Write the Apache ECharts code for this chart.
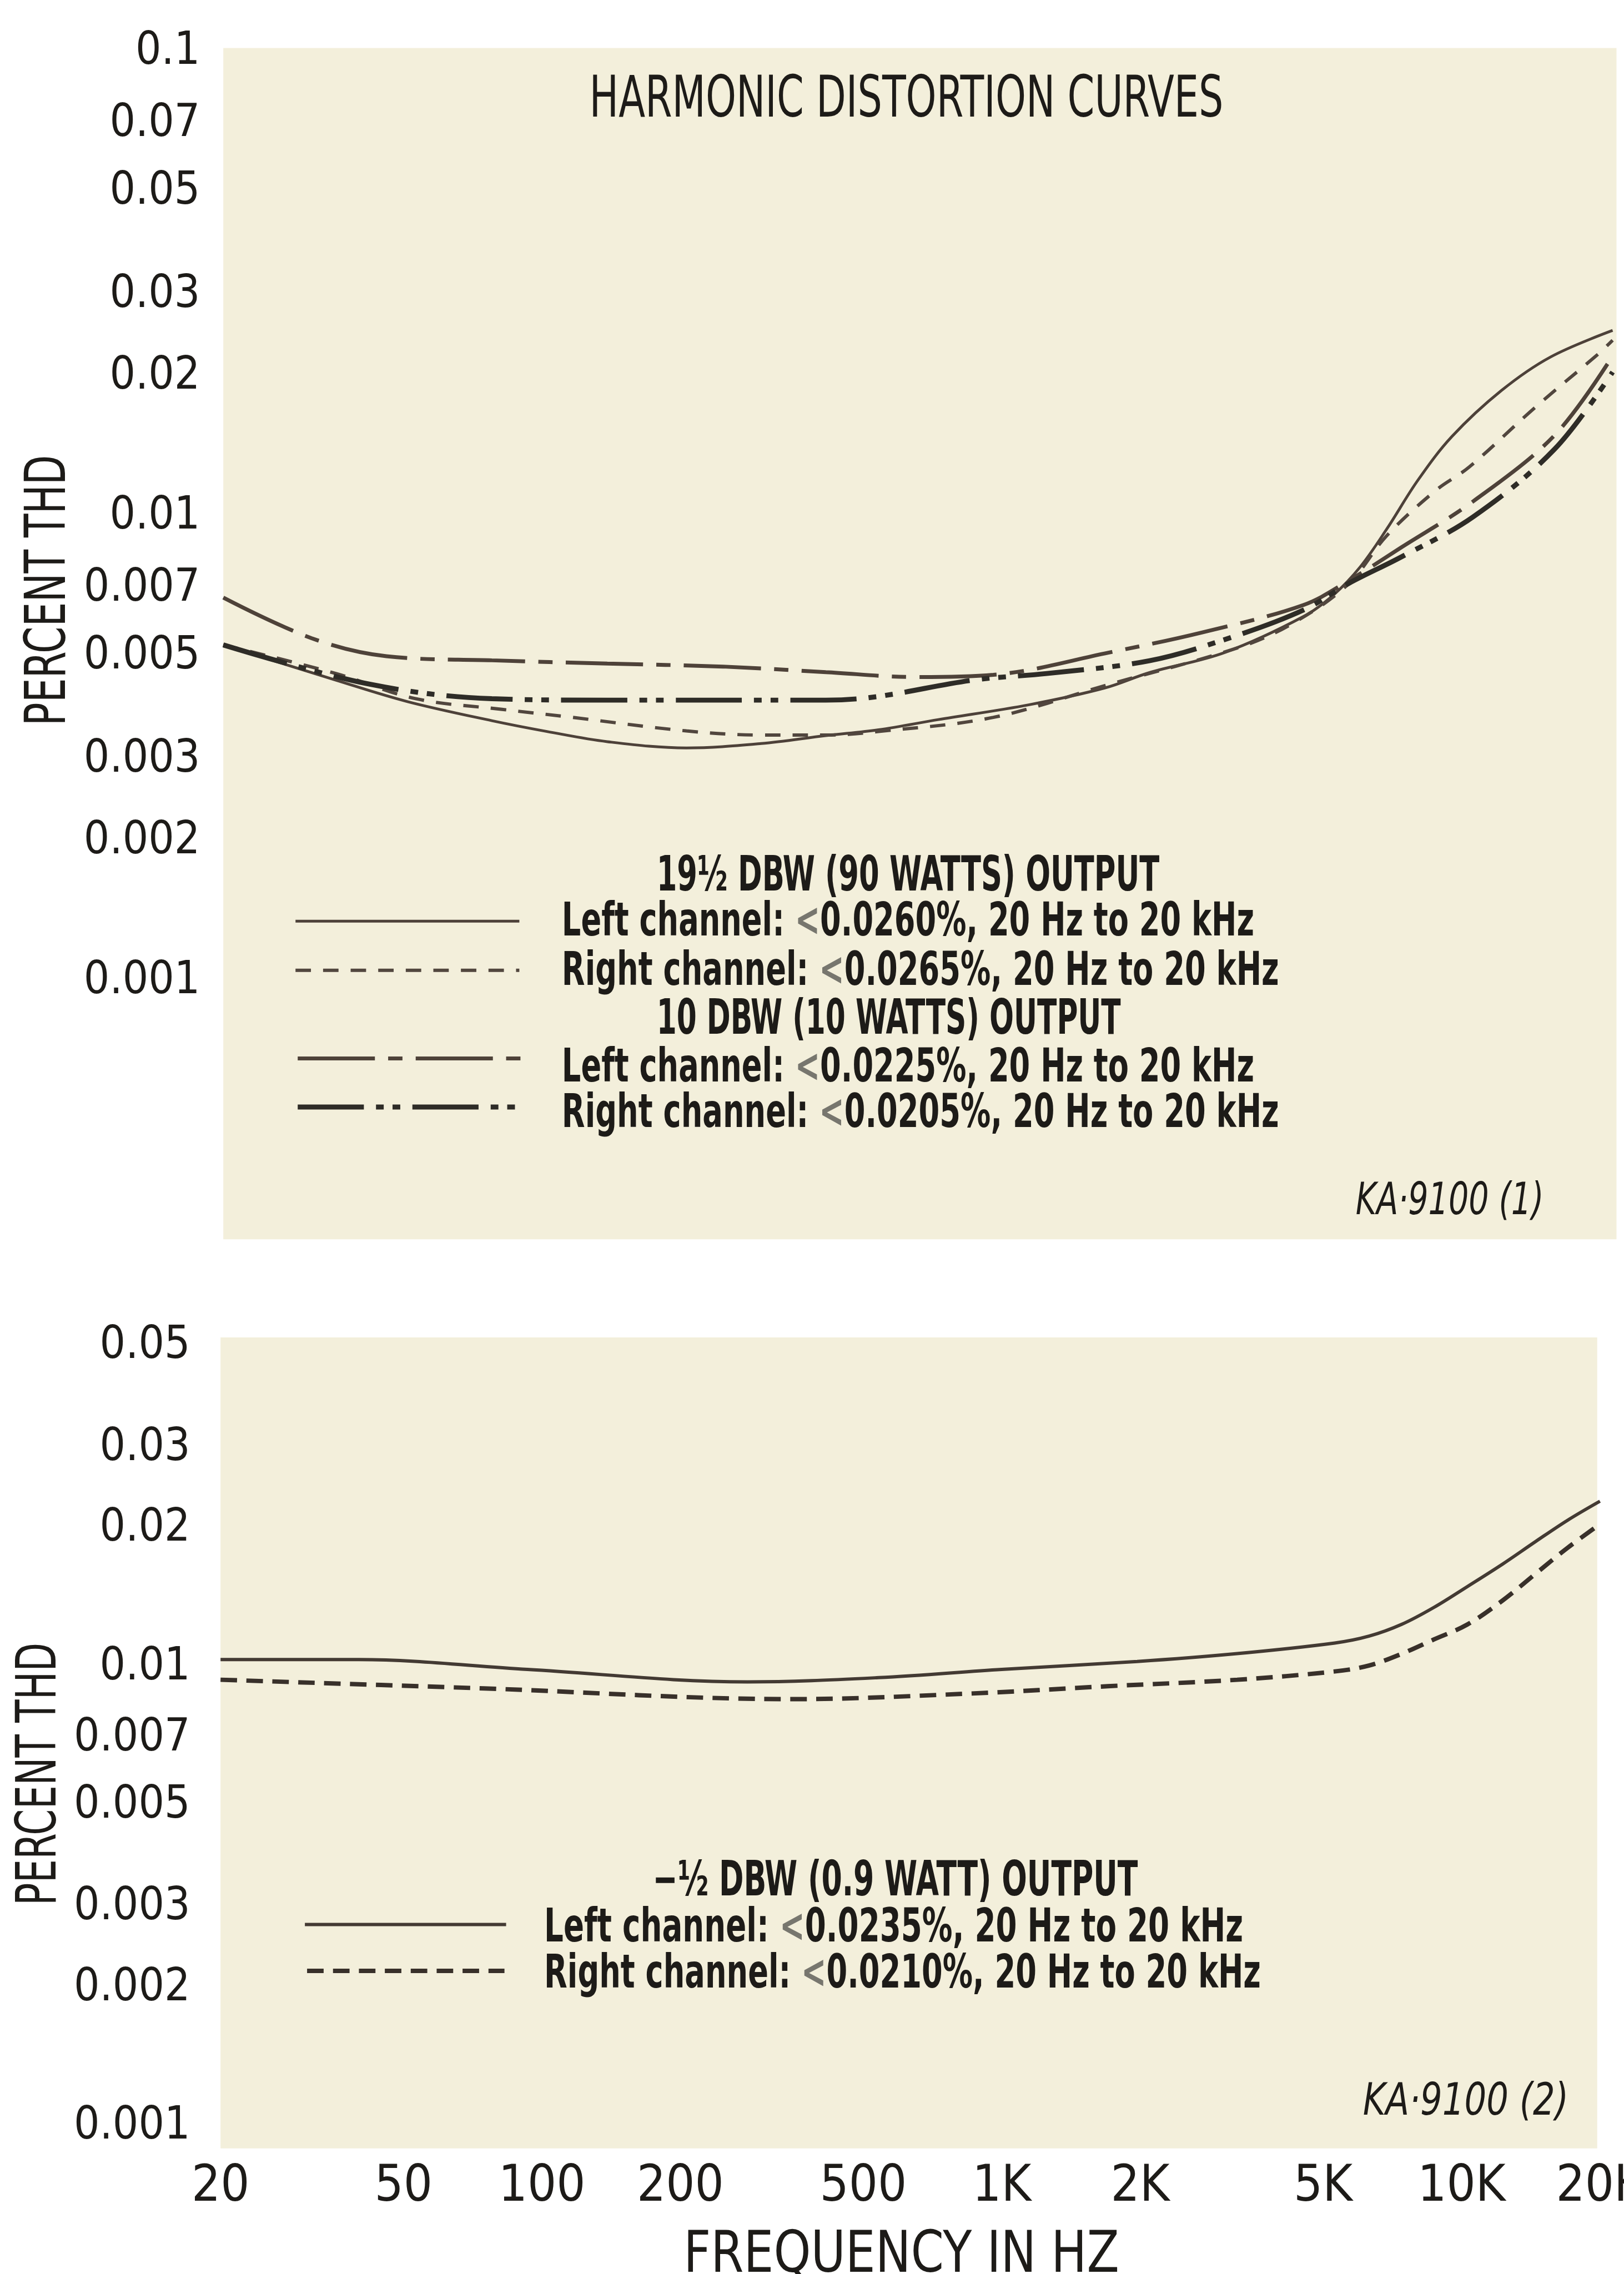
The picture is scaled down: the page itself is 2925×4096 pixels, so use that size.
<!DOCTYPE html>
<html><head><meta charset="utf-8">
<script src="https://cdn.jsdelivr.net/npm/echarts@6/dist/echarts.min.js"></script>
<style>html,body{margin:0;padding:0;background:#fff;}#c{width:2925px;height:4096px;}</style>
</head><body><div id="c"></div>
<script>
// ---------------- data ----------------
const xTicks = [20, 50, 100, 200, 500, 1000, 2000, 5000, 10000, 20000];
const xTickLabels = ['20', '50', '100', '200', '500', '1K', '2K', '5K', '10K', '20K'];
const yTicksTop = [0.1, 0.07, 0.05, 0.03, 0.02, 0.01, 0.007, 0.005, 0.003, 0.002, 0.001];
const yTicksBottom = [0.05, 0.03, 0.02, 0.01, 0.007, 0.005, 0.003, 0.002, 0.001];

// 19½ DBW (90 W) output
const top19Left = [[20,0.0053],[35,0.00445],[50,0.0040],[76,0.00364],[100,0.00345],[135,0.00328],[200,0.00318],[290,0.00325],[400,0.00338],[520,0.00348],[700,0.00366],[1100,0.00394],[1600,0.00428],[2000,0.00462],[2900,0.0051],[4300,0.0061],[5000,0.0068],[5700,0.0078],[6500,0.0094],[7600,0.0120],[9000,0.0149],[11500,0.0187],[14700,0.0221],[20000,0.0252]];
const top19Right = [[20,0.0053],[35,0.0046],[52,0.00406],[80,0.00385],[111,0.00371],[200,0.00346],[290,0.00339],[400,0.00339],[520,0.00345],[920,0.0037],[1600,0.00433],[3200,0.00528],[4200,0.0060],[5400,0.0072],[6500,0.0091],[8300,0.0114],[9800,0.0128],[13600,0.0172],[18600,0.0224],[20000,0.0240]];
// 10 DBW (10 W) output
const top10Left = [[20,0.0067],[31,0.00548],[45,0.00501],[76,0.00491],[135,0.00483],[240,0.00476],[400,0.00463],[625,0.00452],[920,0.00457],[1630,0.0051],[2600,0.00564],[4300,0.00646],[5400,0.0073],[7000,0.0086],[10000,0.0108],[15000,0.0150],[20000,0.0222]];
const top10Right = [[20,0.0053],[41,0.00437],[76,0.00406],[135,0.00403],[400,0.00403],[515,0.0041],[830,0.00445],[1200,0.0046],[2000,0.0049],[3000,0.0055],[4300,0.0063],[5400,0.0072],[7000,0.0082],[10000,0.0100],[15000,0.0140],[20000,0.0205]];
// -1/2 DBW (0.9 W) output
const botLeft = [[20,0.0104],[40,0.0104],[93,0.0099],[280,0.0093],[540,0.0095],[1000,0.0099],[1970,0.0103],[3200,0.0107],[5300,0.0113],[6300,0.0117],[7400,0.0124],[8700,0.0135],[10300,0.0150],[12300,0.0168],[14500,0.0188],[17000,0.0209],[20000,0.0230]];
const botRight = [[20,0.0094],[75,0.0090],[350,0.00853],[850,0.00877],[1700,0.0091],[3250,0.0094],[5300,0.0098],[6300,0.0101],[7400,0.0107],[8700,0.0115],[10300,0.0124],[12300,0.0140],[14500,0.0160],[17000,0.0182],[20000,0.0205]];

// ---------------- style / layout ----------------
const S = 0.993;
const FONT = "'Liberation Sans Narrow','DejaVu Sans Condensed','Roboto Condensed','Liberation Sans',sans-serif";
const INK = '#1d1b18';
const PAPER = '#f3efdb';
const C_SOLID = '#4d4139', C_DASH = '#51463e', C_10L = '#4e4239', C_10R = '#2e2c27';
const C_BSOLID = '#433a33', C_BDASH = '#38302a';
const D_19R = [28, 22], D_10L = [140, 24, 26, 24], D_10R = [120, 22, 14, 16, 14, 22], D_BR = [30, 17];
const TY = 10; // vertical text offset

const mctx = document.createElement('canvas').getContext('2d');
function fit(text, size, targetW, weight, fstyle) {
  mctx.font = (fstyle || 'normal') + ' ' + (weight || 'normal') + ' ' + size + 'px ' + FONT;
  const w = mctx.measureText(text).width;
  return w > 0 ? targetW / w : 1;
}
function txt(text, x, y, size, targetW, o) {
  o = o || {};
  const k = targetW ? fit(text, size, targetW, o.weight, o.fstyle) : 1;
  const st = { text: text, fontSize: size * S, fontFamily: FONT, fontWeight: o.weight || 'normal',
    fontStyle: o.fstyle || 'normal', fill: o.color || INK, align: o.align || 'left', verticalAlign: 'middle' };
  if (o.grayLt && text.indexOf('<') >= 0) {
    st.text = text.replace('<', '{g|<}');
    st.rich = { g: { fill: '#77766e', fontSize: size * S, fontFamily: FONT, fontWeight: o.weight || 'normal' } };
  }
  return { type: 'text', x: x * S, y: (y + (o.rot ? 0 : TY)) * S, scaleX: k, rotation: o.rot || 0, z: 10, silent: true, style: st };
}
function sample(x1, x2, y, color, w, dash) {
  return { type: 'line', z: 10, silent: true,
    shape: { x1: x1 * S, y1: y * S, x2: x2 * S, y2: y * S },
    style: { stroke: color, lineWidth: w * S, lineDash: dash ? dash.map(d => d * S) : null } };
}
function lbl(ticks, labels) {
  return function (v) {
    for (let i = 0; i < ticks.length; i++) {
      if (Math.abs(Math.log10(ticks[i]) - v) < 1e-6) return labels ? labels[i] : String(ticks[i]);
    }
    return '';
  };
}
const hidden = { axisLine: { show: false }, axisTick: { show: false }, splitLine: { show: false } };
const B = 'bold';
const LG = { weight: 'bold', grayLt: true };

const graphics = [
  { type: 'rect', z: -5, silent: true, shape: { x: 405 * S, y: 87 * S, width: 2527 * S, height: 2161 * S }, style: { fill: PAPER } },
  { type: 'rect', z: -5, silent: true, shape: { x: 400 * S, y: 2426 * S, width: 2497 * S, height: 1471 * S }, style: { fill: PAPER } },
  txt('HARMONIC DISTORTION CURVES', 1069, 174, 104, 1150),
  txt('PERCENT THD', 91, 1071, 102, 491, { rot: Math.PI / 2, align: 'center' }),
  txt('PERCENT THD', 75, 3218, 100, 477, { rot: Math.PI / 2, align: 'center' }),
  txt('19½ DBW (90 WATTS) OUTPUT', 1191, 1582, 88, 912, { weight: B }),
  txt('Left channel: <0.0260%, 20 Hz to 20 kHz', 1019, 1665, 84, 1256, LG),
  txt('Right channel: <0.0265%, 20 Hz to 20 kHz', 1019, 1755, 84, 1301, LG),
  txt('10 DBW (10 WATTS) OUTPUT', 1191, 1842, 88, 842, { weight: B }),
  txt('Left channel: <0.0225%, 20 Hz to 20 kHz', 1019, 1930, 84, 1256, LG),
  txt('Right channel: <0.0205%, 20 Hz to 20 kHz', 1019, 2012, 84, 1301, LG),
  txt('KA·9100 (1)', 2459, 2172, 80, 341, { fstyle: 'italic' }),
  txt('−½ DBW (0.9 WATT) OUTPUT', 1184, 3405, 88, 880, { weight: B }),
  txt('Left channel: <0.0235%, 20 Hz to 20 kHz', 987, 3490, 84, 1268, LG),
  txt('Right channel: <0.0210%, 20 Hz to 20 kHz', 987, 3573, 84, 1300, LG),
  txt('KA·9100 (2)', 2472, 3805, 80, 373, { fstyle: 'italic' }),
  txt('FREQUENCY IN HZ', 1635, 4084, 104, 790, { align: 'center' }),
  sample(536, 942, 1671, C_SOLID, 5),
  sample(536, 942, 1760, C_DASH, 6, D_19R),
  sample(540, 948, 1920, C_10L, 7, D_10L),
  sample(540, 948, 2008, C_10R, 9, D_10R),
  sample(553, 918, 3491, C_BSOLID, 6),
  sample(557, 915, 3575, C_BDASH, 8, D_BR)
];

function line(data, xi, yi, color, w, dash) {
  return { type: 'line', xAxisIndex: xi, yAxisIndex: yi, data: data, symbol: 'none', showSymbol: false,
    smooth: 0.35, silent: true, lineStyle: { color: color, width: w * S, type: dash ? dash.map(d => d * S) : 'solid' } };
}

const labelFont = { fontFamily: FONT, color: INK };
const option = {
  animation: false,
  backgroundColor: '#ffffff',
  grid: [
    { left: 405 * S, top: 95 * S, width: 2520 * S, height: 1685 * S, containLabel: false, outerBoundsMode: 'none' },
    { left: 400 * S, top: 2442 * S, width: 2502 * S, height: 1416 * S, containLabel: false, outerBoundsMode: 'none' }
  ],
  xAxis: [
    { type: 'log', gridIndex: 0, min: 20, max: 20000, show: false, position: 'bottom' },
    { type: 'log', gridIndex: 1, min: 20, max: 20000, show: false, position: 'bottom' },
    Object.assign({ type: 'value', gridIndex: 1, position: 'bottom', min: Math.log10(20), max: Math.log10(20000),
      axisLabel: Object.assign({ customValues: xTicks.map(v => Math.log10(v)), formatter: lbl(xTicks, xTickLabels),
        fontSize: 92 * S, margin: 64 * S }, labelFont) }, hidden)
  ],
  yAxis: [
    { type: 'log', gridIndex: 0, min: 0.001, max: 0.1, show: false, position: 'left' },
    Object.assign({ type: 'value', gridIndex: 0, position: 'left', min: -3, max: -1,
      axisLabel: Object.assign({ customValues: yTicksTop.map(v => Math.log10(v)), formatter: lbl(yTicksTop),
        fontSize: 82 * S, margin: 42 * S }, labelFont) }, hidden),
    { type: 'log', gridIndex: 1, min: 0.001, max: 0.05, show: false, position: 'left' },
    Object.assign({ type: 'value', gridIndex: 1, position: 'left', min: -3, max: Math.log10(0.05),
      axisLabel: Object.assign({ customValues: yTicksBottom.map(v => Math.log10(v)), formatter: lbl(yTicksBottom),
        fontSize: 82 * S, margin: 55 * S }, labelFont) }, hidden)
  ],
  graphic: { elements: graphics },
  series: [
    line(top19Left, 0, 0, C_SOLID, 5),
    line(top19Right, 0, 0, C_DASH, 6, D_19R),
    line(top10Left, 0, 0, C_10L, 7, D_10L),
    line(top10Right, 0, 0, C_10R, 9, D_10R),
    line(botLeft, 1, 2, C_BSOLID, 6),
    line(botRight, 1, 2, C_BDASH, 8, D_BR)
  ]
};
const chart = echarts.init(document.getElementById('c'), null, { renderer: 'canvas', width: 2925, height: 4096 });
chart.setOption(option);
</script></body></html>
